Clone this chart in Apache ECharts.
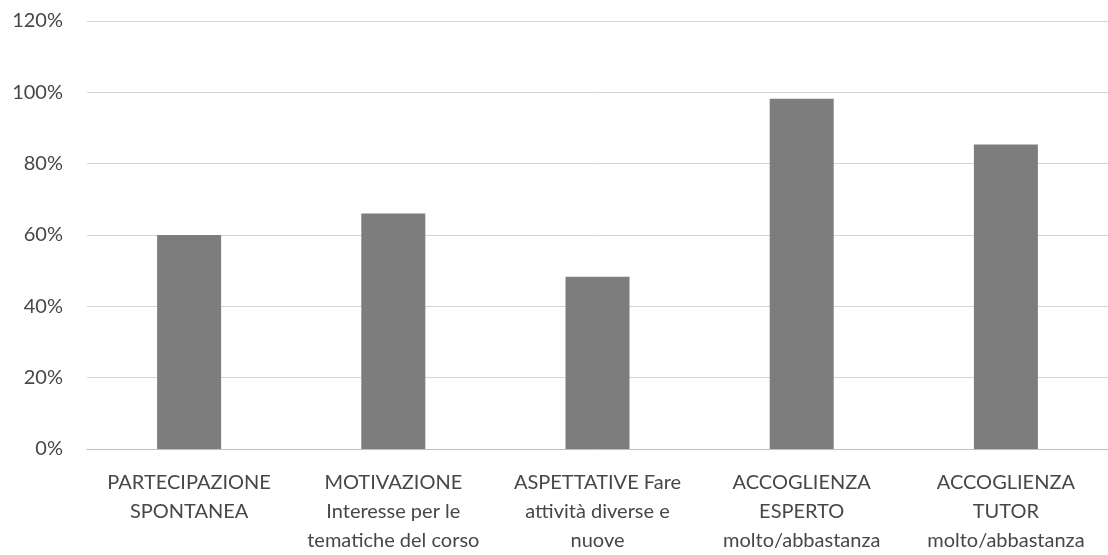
<!DOCTYPE html>
<html><head><meta charset="utf-8">
<script src="https://cdn.jsdelivr.net/npm/echarts@6/dist/echarts.min.js"></script>
<style>html,body{margin:0;padding:0;background:#fff}#c{width:1108px;height:555px}</style>
</head><body><div id="c"></div>
<script>
const categories = [
  "PARTECIPAZIONE\nSPONTANEA",
  "MOTIVAZIONE\nInteresse per le\ntematiche del corso",
  "ASPETTATIVE Fare\nattività diverse e\nnuove",
  "ACCOGLIENZA\nESPERTO\nmolto/abbastanza",
  "ACCOGLIENZA\nTUTOR\nmolto/abbastanza"
];
const values = [60, 66, 48.3, 98.2, 85.4];
const yTicks = [0, 20, 40, 60, 80, 100, 120];

const chart = echarts.init(document.getElementById('c'));
chart.setOption({
  animation: false,
  textStyle: { fontFamily: 'Lato' },
  grid: { left: 87, right: -7, top: 21, bottom: 105 },
  xAxis: {
    type: 'category', data: categories,
    axisTick: { show: false },
    axisLine: { lineStyle: { color: '#bfbfbf', width: 1 } },
    axisLabel: { interval: 0, color: '#474747', fontSize: 20, lineHeight: 29, margin: 19, fontFamily: 'Lato' }
  },
  yAxis: {
    type: 'value', min: yTicks[0], max: yTicks[yTicks.length - 1], interval: 20,
    axisLine: { show: false }, axisTick: { show: false },
    splitLine: { lineStyle: { color: '#d4d4d4', width: 1 } },
    axisLabel: { formatter: '{value}%', color: '#474747', fontSize: 20, margin: 24, fontFamily: 'Lato' }
  },
  series: [{
    type: 'bar', data: values, barWidth: 64,
    itemStyle: { color: '#7d7d7d' }
  }]
});
</script></body></html>
